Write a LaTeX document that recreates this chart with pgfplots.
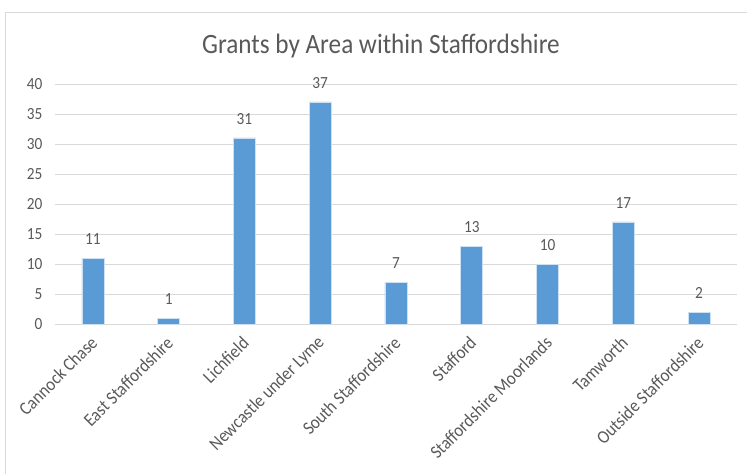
\documentclass[border=0pt]{standalone}
\usepackage{fontspec}
\setmainfont[FakeStretch=0.9]{Carlito}
\newfontfamily\plainfont{Carlito}
\usepackage{pgfplots}
\pgfplotsset{compat=1.18}
\definecolor{barblue}{HTML}{5B9BD5}
\definecolor{txtgray}{HTML}{595959}
\definecolor{gridgray}{HTML}{D9D9D9}

\begin{document}
\begin{tikzpicture}
  \useasboundingbox (-55bp,-150bp) rectangle (692bp,324bp);
  \draw[gridgray, line width=0.8bp] (-50bp,-170bp) -- (-50bp,312bp) -- (720bp,312bp);
  \begin{axis}[
      scale only axis,
      width=682bp, height=240bp,
      at={(0,0)}, anchor=south west,
      ybar, bar width=22bp,
      xmin=-0.5, xmax=8.5,
      ymin=0, ymax=40,
      ytick distance=5,
      xtick=data,
      xticklabels={Cannock Chase, East Staffordshire, Lichfield, Newcastle under Lyme, South Staffordshire, Stafford, Staffordshire Moorlands, Tamworth, Outside Staffordshire},
      major tick length=0pt,
      axis line style={draw=none},
      ymajorgrids,
      grid style={gridgray, line width=0.8bp},
      ticklabel style={font=\fontsize{17bp}{19bp}\selectfont, text=txtgray},
      xticklabel style={font=\plainfont\fontsize{18.5bp}{20bp}\selectfont, rotate=45, xscale=0.9, anchor=east, xshift=-8bp, yshift=-12bp},
      /pgf/number format/assume math mode=true,
      yticklabel style={xshift=-9bp},
      nodes near coords,
      every node near coord/.append style={font=\fontsize{17bp}{19bp}\selectfont, text=txtgray, yshift=10bp},
      title={Grants by Area within Staffordshire},
      title style={font=\fontsize{28bp}{30bp}\selectfont, text=txtgray, at={(326bp,272bp)}, anchor=center},
    ]
    \addplot[fill=barblue, draw=white!70!barblue, line width=0.6bp] coordinates {
      (0,11) (1,1) (2,31) (3,37) (4,7) (5,13) (6,10) (7,17) (8,2)
    };
  \end{axis}
\end{tikzpicture}
\end{document}
